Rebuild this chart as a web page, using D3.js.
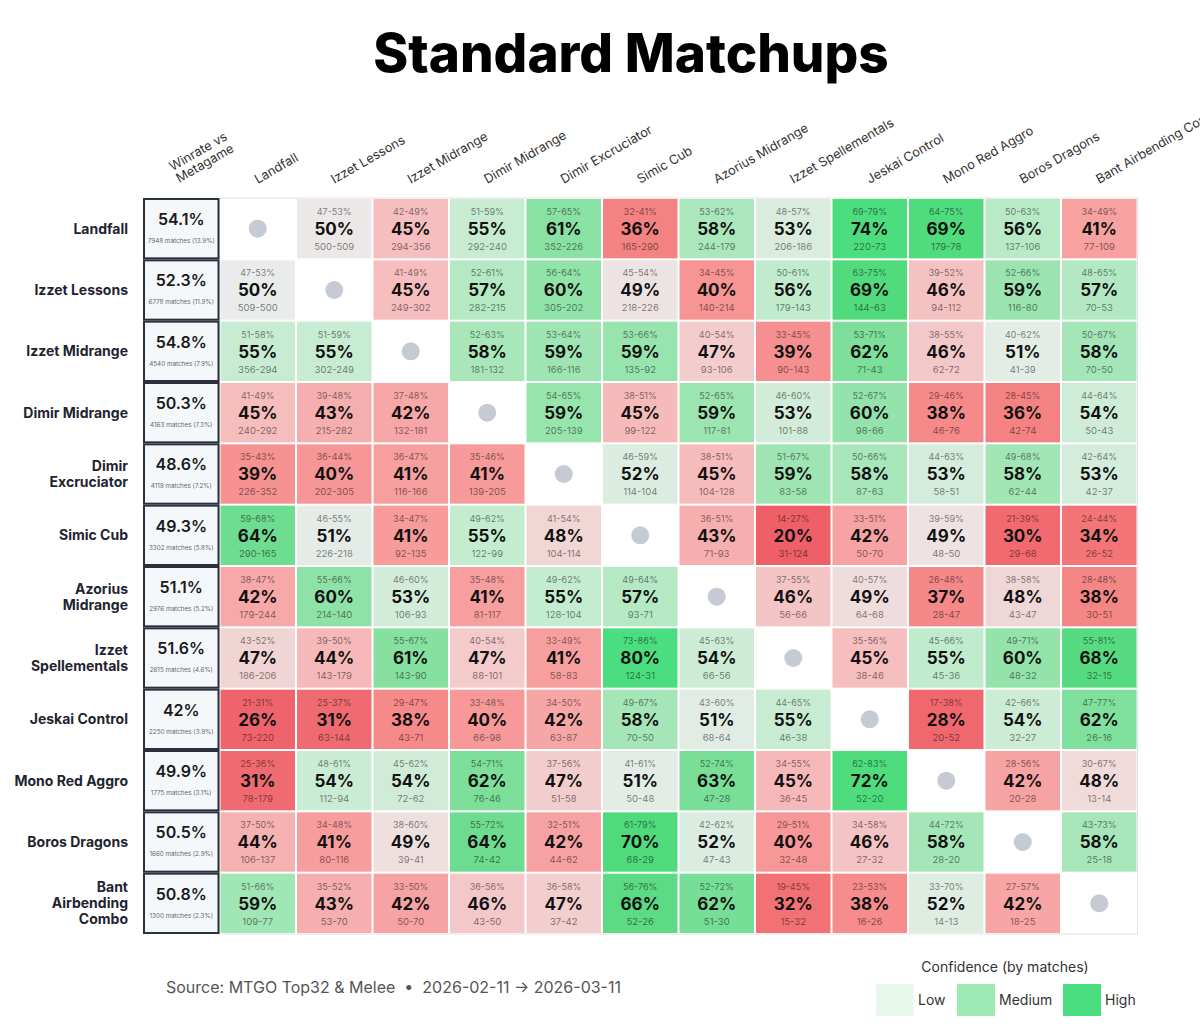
<!DOCTYPE html>
<html>
<head>
<meta charset="utf-8">
<script src="https://cdn.jsdelivr.net/npm/d3@7"></script>
<style>
  body { margin: 0; background: #fff; }
  svg { display: block; font-family: Inter, "Noto Sans", sans-serif; }
</style>
</head>
<body>
<svg id="chart"></svg>
<script>
const decks = ["Landfall", "Izzet Lessons", "Izzet Midrange", "Dimir Midrange", "Dimir Excruciator",
  "Simic Cub", "Azorius Midrange", "Izzet Spellementals", "Jeskai Control", "Mono Red Aggro",
  "Boros Dragons", "Bant Airbending Combo"];

// row labels as they wrap on the left side
const rowLabels = [["Landfall"], ["Izzet Lessons"], ["Izzet Midrange"], ["Dimir Midrange"], ["Dimir", "Excruciator"],
  ["Simic Cub"], ["Azorius", "Midrange"], ["Izzet", "Spellementals"], ["Jeskai Control"], ["Mono Red Aggro"],
  ["Boros Dragons"], ["Bant", "Airbending", "Combo"]];

const metaWinrate = [54.1, 52.3, 54.8, 50.3, 48.6, 49.3, 51.1, 51.6, 42, 49.9, 50.5, 50.8];
const metaMatches = [7948, 6778, 4540, 4163, 4119, 3302, 2976, 2615, 2250, 1775, 1660, 1300];
const metaShare = [13.9, 11.9, 7.9, 7.3, 7.2, 5.8, 5.2, 4.6, 3.9, 3.1, 2.9, 2.3];

// wins of row deck vs column deck (losses are the column deck's wins)
const wins = [
  [null, 500, 294, 292, 352, 165, 244, 206, 220, 179, 137, 77],
  [509, null, 249, 282, 305, 218, 140, 179, 144, 94, 116, 70],
  [356, 302, null, 181, 166, 135, 93, 90, 71, 62, 41, 70],
  [240, 215, 132, null, 205, 99, 117, 101, 98, 46, 42, 50],
  [226, 202, 116, 139, null, 114, 104, 83, 87, 58, 62, 42],
  [290, 226, 92, 122, 104, null, 71, 31, 50, 48, 29, 26],
  [179, 214, 106, 81, 128, 93, null, 56, 64, 28, 43, 30],
  [186, 143, 143, 88, 58, 124, 66, null, 38, 45, 48, 32],
  [73, 63, 43, 66, 63, 70, 68, 46, null, 20, 32, 26],
  [78, 112, 72, 76, 51, 50, 47, 36, 52, null, 20, 13],
  [106, 80, 39, 74, 44, 68, 47, 32, 27, 28, null, 25],
  [109, 53, 50, 43, 37, 52, 51, 15, 16, 14, 18, null]
];

const pct = [
  [null, 50, 45, 55, 61, 36, 58, 53, 74, 69, 56, 41],
  [50, null, 45, 57, 60, 49, 40, 56, 69, 46, 59, 57],
  [55, 55, null, 58, 59, 59, 47, 39, 62, 46, 51, 58],
  [45, 43, 42, null, 59, 45, 59, 53, 60, 38, 36, 54],
  [39, 40, 41, 41, null, 52, 45, 59, 58, 53, 58, 53],
  [64, 51, 41, 55, 48, null, 43, 20, 42, 49, 30, 34],
  [42, 60, 53, 41, 55, 57, null, 46, 49, 37, 48, 38],
  [47, 44, 61, 47, 41, 80, 54, null, 45, 55, 60, 68],
  [26, 31, 38, 40, 42, 58, 51, 55, null, 28, 54, 62],
  [31, 54, 54, 62, 47, 51, 63, 45, 72, null, 42, 48],
  [44, 41, 49, 64, 42, 70, 52, 40, 46, 58, null, 58],
  [59, 43, 42, 46, 47, 66, 62, 32, 38, 52, 42, null]
];

const ciLow = [
  [null, 47, 42, 51, 57, 32, 53, 48, 69, 64, 50, 34],
  [47, null, 41, 52, 56, 45, 34, 50, 63, 39, 52, 48],
  [51, 51, null, 52, 53, 53, 40, 33, 53, 38, 40, 50],
  [41, 39, 37, null, 54, 38, 52, 46, 52, 29, 28, 44],
  [35, 36, 36, 35, null, 46, 38, 51, 50, 44, 49, 42],
  [59, 46, 34, 49, 41, null, 36, 14, 33, 39, 21, 24],
  [38, 55, 46, 35, 49, 49, null, 37, 40, 26, 38, 28],
  [43, 39, 55, 40, 33, 73, 45, null, 35, 45, 49, 55],
  [21, 25, 29, 33, 34, 49, 43, 44, null, 17, 42, 47],
  [25, 48, 45, 54, 37, 41, 52, 34, 62, null, 28, 30],
  [37, 34, 38, 55, 32, 61, 42, 29, 34, 44, null, 43],
  [51, 35, 33, 36, 36, 56, 52, 19, 23, 33, 27, null]
];

const ciHigh = [
  [null, 53, 49, 59, 65, 41, 62, 57, 79, 75, 63, 49],
  [53, null, 49, 61, 64, 54, 45, 61, 75, 52, 66, 65],
  [58, 59, null, 63, 64, 66, 54, 45, 71, 55, 62, 67],
  [49, 48, 48, null, 65, 51, 65, 60, 67, 46, 45, 64],
  [43, 44, 47, 46, null, 59, 51, 67, 66, 63, 68, 64],
  [68, 55, 47, 62, 54, null, 51, 27, 51, 59, 39, 44],
  [47, 66, 60, 48, 62, 64, null, 55, 57, 48, 58, 48],
  [52, 50, 67, 54, 49, 86, 63, null, 56, 66, 71, 81],
  [31, 37, 47, 48, 50, 67, 60, 65, null, 38, 66, 77],
  [36, 61, 62, 71, 56, 61, 74, 55, 83, null, 56, 67],
  [50, 48, 60, 72, 51, 79, 62, 51, 58, 72, null, 73],
  [66, 52, 50, 56, 58, 76, 72, 45, 53, 70, 57, null]
];

const legendLevels = ["Low", "Medium", "High"];

const width = 1200, height = 1029;
const svg = d3.select("#chart").attr("width", width).attr("height", height);

const cols = ["__wr", ...decks];
const x = d3.scaleBand().domain(cols).range([143, 1137.5]);
const y = d3.scaleBand().domain(decks).range([198, 934]);
const bw = x.bandwidth(), bh = y.bandwidth();

// diverging colour around 50%
const color = d3.scaleLinear()
  .domain([-30, -20, -15, -10, -5, 0, 5, 10, 15, 20, 30])
  .range(["#ee5f68", "#f06a70", "#f47b7b", "#f79797", "#f6bcbc", "#ececec", "#c6ecd1", "#93e3aa", "#62da88", "#4fdb7c", "#4ade80"])
  .interpolate(d3.interpolateRgb)
  .clamp(true);

svg.append("text")
  .attr("x", 631).attr("y", 72)
  .attr("text-anchor", "middle")
  .attr("font-size", 53).attr("font-weight", 800)
  .attr("fill", "#000")
  .text("Standard Matchups");

// column headers
const head = svg.append("g").attr("font-size", 12.8).attr("fill", "#333");
head.append("text")
  .attr("transform", `translate(${x("__wr") + bw / 2 - 2},183) rotate(-30)`)
  .selectAll("tspan").data(["Winrate vs", "Metagame"]).join("tspan")
  .attr("x", 0).attr("y", (d, i) => (i - 1) * 13.5)
  .text(d => d);
head.selectAll("text.col").data(decks).join("text")
  .attr("class", "col")
  .attr("transform", d => `translate(${x(d) + bw / 2},184) rotate(-30)`)
  .text(d => d);

// row labels
const rl = svg.append("g").attr("font-size", 14).attr("font-weight", 650).attr("fill", "#1f2430");
decks.forEach((d, i) => {
  const lines = rowLabels[i];
  const cy = y(d) + bh / 2;
  rl.append("text")
    .attr("text-anchor", "end")
    .selectAll("tspan").data(lines).join("tspan")
    .attr("x", 128)
    .attr("y", (t, k) => cy + 5 + (k - (lines.length - 1) / 2) * 16)
    .text(t => t);
});

// matrix cells
const cells = [];
decks.forEach((r, i) => decks.forEach((c, j) => cells.push({ r, c, i, j })));

svg.append("rect")
  .attr("x", x(decks[0])).attr("y", y(decks[0]))
  .attr("width", bw * decks.length).attr("height", bh * decks.length)
  .attr("fill", "none").attr("stroke", "#e3e3e3");

const g = svg.append("g").selectAll("g").data(cells).join("g")
  .attr("transform", d => `translate(${x(d.c)},${y(d.r)})`);

g.append("rect")
  .attr("x", 1).attr("y", 1).attr("width", bw - 2).attr("height", bh - 2)
  .attr("fill", d => {
    if (d.i === d.j) return "#fff";
    const w = wins[d.i][d.j], l = wins[d.j][d.i];
    return color(w / (w + l) * 100 - 50);
  });

const diag = g.filter(d => d.i === d.j);
diag.append("circle").attr("cx", bw / 2).attr("cy", bh / 2).attr("r", 9).attr("fill", "#c6cad4");

const off = g.filter(d => d.i !== d.j).attr("text-anchor", "middle");
off.append("text")
  .attr("x", bw / 2).attr("y", 17)
  .attr("font-size", 9).attr("fill", "#000").attr("fill-opacity", 0.5)
  .text(d => `${ciLow[d.i][d.j]}-${ciHigh[d.i][d.j]}%`);
off.append("text")
  .attr("x", bw / 2).attr("y", 37)
  .attr("font-size", 17).attr("font-weight", 700).attr("fill", "#111")
  .text(d => `${pct[d.i][d.j]}%`);
off.append("text")
  .attr("x", bw / 2).attr("y", 52)
  .attr("font-size", 9.5).attr("fill", "#000").attr("fill-opacity", 0.5)
  .text(d => `${wins[d.i][d.j]}-${wins[d.j][d.i]}`);

// winrate vs metagame column
const wr = svg.append("g").selectAll("g").data(decks).join("g")
  .attr("transform", d => `translate(${x("__wr")},${y(d)})`)
  .attr("text-anchor", "middle");
wr.append("rect")
  .attr("x", 1).attr("y", 1).attr("width", bw - 2).attr("height", bh - 2)
  .attr("fill", "#f5f8fb").attr("stroke", "#2a313c").attr("stroke-width", 2);
wr.append("text")
  .attr("x", bw / 2).attr("y", 27)
  .attr("font-size", 16).attr("font-weight", 600).attr("fill", "#1a1a1a")
  .text((d, i) => `${metaWinrate[i]}%`);
wr.append("text")
  .attr("x", bw / 2).attr("y", 45)
  .attr("font-size", 6.3).attr("fill", "#666")
  .text((d, i) => `${metaMatches[i]} matches (${metaShare[i]}%)`);

// footer
svg.append("text")
  .attr("x", 166).attr("y", 993)
  .attr("font-size", 16).attr("fill", "#555")
  .style("white-space", "pre")
  .text("Source: MTGO Top32 & Melee  \u2022  2026-02-11 \u2192 2026-03-11");

// legend
svg.append("text")
  .attr("x", 1005).attr("y", 972)
  .attr("text-anchor", "middle")
  .attr("font-size", 14).attr("fill", "#333")
  .text("Confidence (by matches)");
const legendColor = d3.scaleOrdinal().domain(legendLevels).range(["#e8f8ec", "#9ee9b4", "#4ade80"]);
const lx = d3.scaleOrdinal().domain(legendLevels).range([876, 957, 1063]);
const lg = svg.append("g").selectAll("g").data(legendLevels).join("g")
  .attr("transform", d => `translate(${lx(d)},984)`);
lg.append("rect").attr("width", 38).attr("height", 32).attr("fill", d => legendColor(d));
lg.append("text").attr("x", 42).attr("y", 21).attr("font-size", 14).attr("fill", "#333").text(d => d);
</script>
</body>
</html>
